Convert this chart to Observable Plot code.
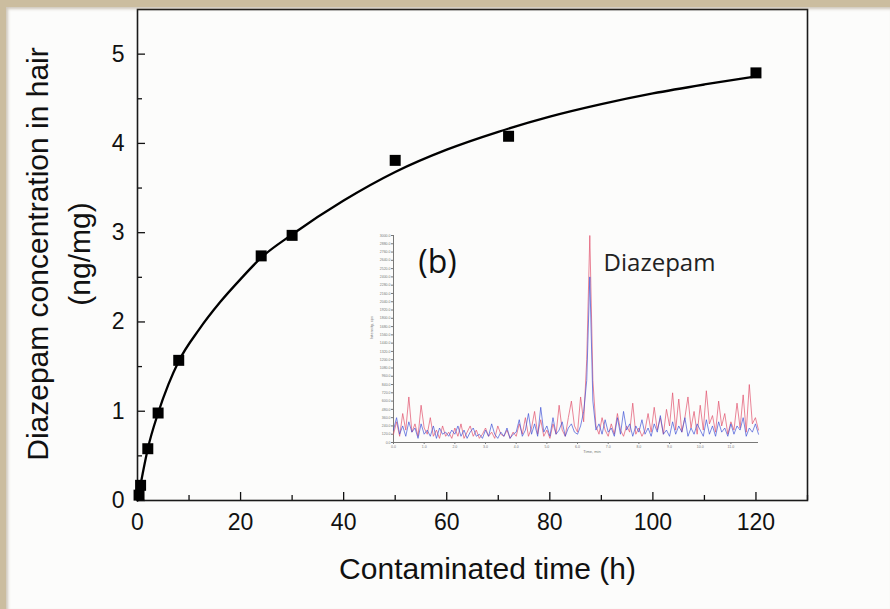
<!DOCTYPE html>
<html>
<head>
<meta charset="utf-8">
<script src="https://cdn.jsdelivr.net/npm/d3@7"></script>
<script src="https://cdn.jsdelivr.net/npm/@observablehq/plot@0.6"></script>
<style>
  html, body { margin: 0; padding: 0; background: #fcfcfb; }
  #wrap { position: relative; width: 890px; height: 609px; overflow: hidden; background: #fcfcfb; }
  #main, #inset { position: absolute; }
  #main { left: 0; top: 0; }
  #inset { left: 360px; top: 225px; }
  #edge { position: absolute; left: 0; top: 0; width: 890px; height: 609px; pointer-events: none;
          border-top: 7px solid #cbbd9f; border-left: 6px solid #cbbd9f; box-sizing: border-box;
          box-shadow: inset 2px 2px 3px rgba(120,100,70,0.35); }
</style>
</head>
<body>
<div id="wrap">
  <div id="main"></div>
  <div id="inset"></div>
  <div id="edge"></div>
</div>
<script>
// ---- main data ----
const xTime = [0.3, 0.6, 2, 4, 8, 24, 30, 50, 72, 120];
const yConc = [0.06, 0.17, 0.58, 0.98, 1.57, 2.74, 2.97, 3.81, 4.08, 4.79];
const fitTime = [0, 1, 2, 4, 6, 8, 12, 16, 20, 24, 30, 40, 50, 60, 70, 80, 90, 100, 110, 120];
const fitConc = [0, 0.3, 0.58, 0.98, 1.30, 1.56, 1.92, 2.22, 2.48, 2.72, 2.98, 3.36, 3.68, 3.93, 4.13, 4.30, 4.44, 4.56, 4.66, 4.75];
const xTicks = [0, 20, 40, 60, 80, 100, 120];
const xMinor = [10, 30, 50, 70, 90, 110, 130];
const yTicks = [0, 1, 2, 3, 4, 5];
const yMinor = [0.5, 1.5, 2.5, 3.5, 4.5];
const xTitle = "Contaminated time (h)";
const yTitle = "Diazepam concentration in hair\n(ng/mg)";

// ---- inset chromatogram (intensity % of peak) ----
const redTrace = [4,10,3,14,6,22,5,9,3,18,7,4,12,3,6,2,8,3,5,2,
  7,3,9,2,5,8,3,6,2,4,7,3,5,2,8,4,3,6,2,5,
  3,9,4,12,3,7,15,4,11,3,6,2,9,4,18,6,3,12,20,8,
  5,22,10,40,100,30,8,4,12,6,
  3,9,4,14,6,3,8,5,19,4,7,3,6,14,5,17,6,12,4,16,
  8,24,6,21,5,12,22,7,15,4,18,6,25,9,13,5,20,8,14,4,10,6,19,7,23,5,28,9,12,6];
const blueTrace = [6,12,4,8,3,10,5,7,2,9,4,6,3,8,2,7,4,5,3,6,
  4,8,3,6,2,5,7,3,4,2,6,3,9,4,2,5,3,7,2,4,
  5,11,3,6,14,4,9,3,17,5,8,3,12,4,6,10,3,7,9,5,
  4,8,15,30,80,20,6,9,4,11,
  5,7,3,12,4,15,6,9,3,8,5,11,4,7,3,9,5,13,4,6,
  3,10,4,8,5,12,3,7,4,9,6,3,11,4,8,3,10,5,7,3,9,4,8,6,12,3,7,5,9,4];
const insetLabel = "(b)";
const peakLabel = "Diazepam";

const points = xTime.map((x, i) => ({x, y: yConc[i]}));
const fit = fitTime.map((x, i) => ({x, y: fitConc[i]}));

const font = "'Liberation Sans', Arial, sans-serif";

const main = Plot.plot({
  width: 890, height: 609,
  marginLeft: 137, marginRight: 83, marginTop: 9, marginBottom: 109,
  style: {fontFamily: font, background: "transparent", color: "#111"},
  x: {domain: [0, 130]},
  y: {domain: [0, 5.5]},
  marks: [
    Plot.axisX(xTicks, {tickSize: -8, tickPadding: 21, fontSize: 23, label: null, strokeWidth: 1.3, tickFormat: "d"}),
    Plot.axisX(xMinor, {tickSize: -5, text: null, label: null, strokeWidth: 1.3}),
    Plot.axisY(yTicks, {tickSize: -8, tickPadding: 21, fontSize: 23, label: null, strokeWidth: 1.3, tickFormat: "d"}),
    Plot.axisY(yMinor, {tickSize: -5, text: null, label: null, strokeWidth: 1.3}),
    Plot.frame({stroke: "#1a1a1a", strokeWidth: 1.6}),
    Plot.line(fit, {x: "x", y: "y", curve: "monotone-x", stroke: "#000", strokeWidth: 2.3}),
    Plot.dot(points, {x: "x", y: "y", symbol: "square", r: 6.2, fill: "#000", stroke: "none"}),
    Plot.text([xTitle], {frameAnchor: "bottom", dx: 15, dy: 69, fontSize: 30, textAnchor: "middle", lineAnchor: "middle", fill: "#111"}),
    Plot.text([yTitle], {frameAnchor: "left", dx: -82, dy: -1, rotate: -90, fontSize: 30, lineHeight: 1.4, textAnchor: "middle", lineAnchor: "middle", fill: "#111"})
  ]
});
document.getElementById("main").appendChild(main);

const idx = d3.range(redTrace.length);
const redData = idx.map(i => ({t: i, v: redTrace[i]}));
const blueData = idx.map(i => ({t: i, v: blueTrace[i]}));
const insetXTicks = d3.range(0, 120, 10);
const insetYTicks = d3.range(0, 101, 4);

const inset = Plot.plot({
  width: 410, height: 240,
  marginLeft: 33, marginRight: 12, marginTop: 10, marginBottom: 23,
  style: {fontFamily: font, background: "transparent", overflow: "visible"},
  x: {domain: [0, 119]},
  y: {domain: [0, 100]},
  marks: [
    Plot.ruleX([0], {stroke: "#555", strokeWidth: 0.8}),
    Plot.ruleY([0], {stroke: "#555", strokeWidth: 0.8}),
    Plot.axisY(insetYTicks, {tickSize: 2, tickPadding: 1, fontSize: 3.5, fill: "#777", stroke: "#777", label: null, tickFormat: d => (d * 30).toFixed(1)}),
    Plot.axisX(insetXTicks, {tickSize: 2, tickPadding: 1, fontSize: 3.5, fill: "#777", stroke: "#777", label: null, tickFormat: d => (d / 10).toFixed(1)}),
    Plot.text(["Time, min"], {frameAnchor: "bottom", dx: 16, dy: 10, fontSize: 4, fill: "#777"}),
    Plot.text(["Intensity, cps"], {frameAnchor: "left", dx: -22, rotate: -90, fontSize: 4, fill: "#777"}),
    Plot.line(redData, {x: "t", y: "v", stroke: "#e2556f", strokeWidth: 0.8, strokeOpacity: 0.9}),
    Plot.line(blueData, {x: "t", y: "v", stroke: "#3c4ed6", strokeWidth: 0.8, strokeOpacity: 0.85}),
    Plot.text([insetLabel], {frameAnchor: "top-left", dx: 44, dy: 27, fontSize: 32, fontFamily: "'Open Sans', sans-serif", textAnchor: "middle", lineAnchor: "middle", fill: "#111"}),
    Plot.text([peakLabel], {frameAnchor: "top-left", dx: 266, dy: 28, fontSize: 24, fontFamily: "'Open Sans', sans-serif", textAnchor: "middle", lineAnchor: "middle", fill: "#222"})
  ]
});
document.getElementById("inset").appendChild(inset);
</script>
</body>
</html>
